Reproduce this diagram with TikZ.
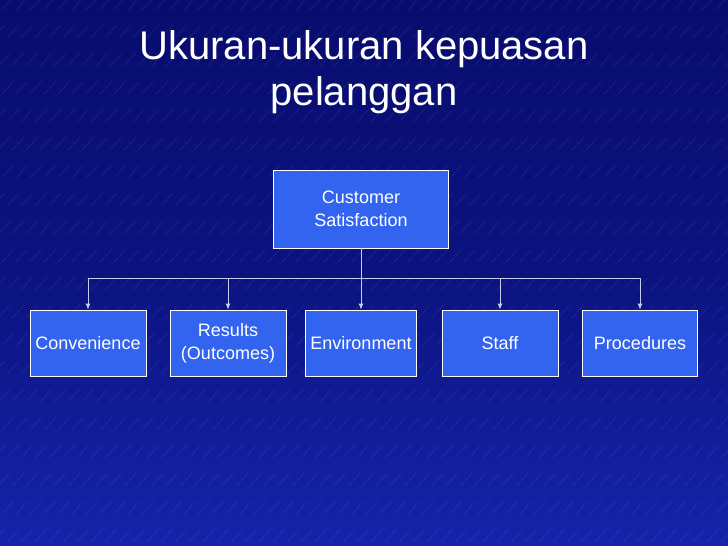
\documentclass[tikz,border=0pt]{standalone}
\usepackage{fontspec}
\setmainfont{Liberation Sans}
\usetikzlibrary{arrows.meta}
\definecolor{bgdark}{RGB}{8,12,110}
\definecolor{bgmid}{RGB}{20,35,170}
\definecolor{boxblue}{RGB}{50,100,240}
\definecolor{linegrey}{RGB}{200,205,235}
\tikzset{
  item/.style={draw=white,fill=boxblue,text=white,line width=0.8pt,inner sep=1pt,
    minimum height=66pt,align=center,font=\fontsize{18}{23}\selectfont},
  link/.style={draw=linegrey,line width=1pt,-{Latex[length=6pt,width=5pt]}}
}
\begin{document}
\begin{tikzpicture}[x=1pt,y=-1pt]
  % background
  \shade[top color=bgdark,bottom color=bgmid,middle color=bgdark!70!bgmid] (0,0) rectangle (728,546);
  \useasboundingbox (0,0) rectangle (728,546);
  \foreach \i in {0,...,60}{
    \foreach \j in {0,...,20}{
      \draw[white,opacity=0.12,line width=0.4pt] ({\i*14+mod(\j,3)*5-40},{\j*28+10}) -- +(12,-13);
    }
  }
  % title
  \node (title) [text=white,font=\fontsize{40}{46}\selectfont,align=center] at (364,72) {Ukuran-ukuran kepuasan\\pelanggan};
  % nodes
  \node (top) [item,minimum width=175pt,minimum height=78pt] at (361,209) {Customer\\Satisfaction};
  \node (conv) [item,minimum width=116pt] at (88,343) {Convenience};
  \node (res) [item,minimum width=116pt] at (228,343) {Results\\(Outcomes)};
  \node (env) [item,minimum width=111pt] at (361,343) {Environment};
  \node (staff) [item,minimum width=116pt] at (500,343) {Staff};
  \node (proc) [item,minimum width=115pt] at (640,343) {Procedures};
  % connectors
  \coordinate (bus) at (361,278);
  \draw[linegrey,line width=1pt] (top.south) -- (bus);
  \draw[linegrey,line width=1pt] (conv.north |- bus) -- (proc.north |- bus);
  \foreach \n in {conv,res,env,staff,proc}
    \draw[link] (\n.north |- bus) -- (\n.north);
\end{tikzpicture}
\end{document}
